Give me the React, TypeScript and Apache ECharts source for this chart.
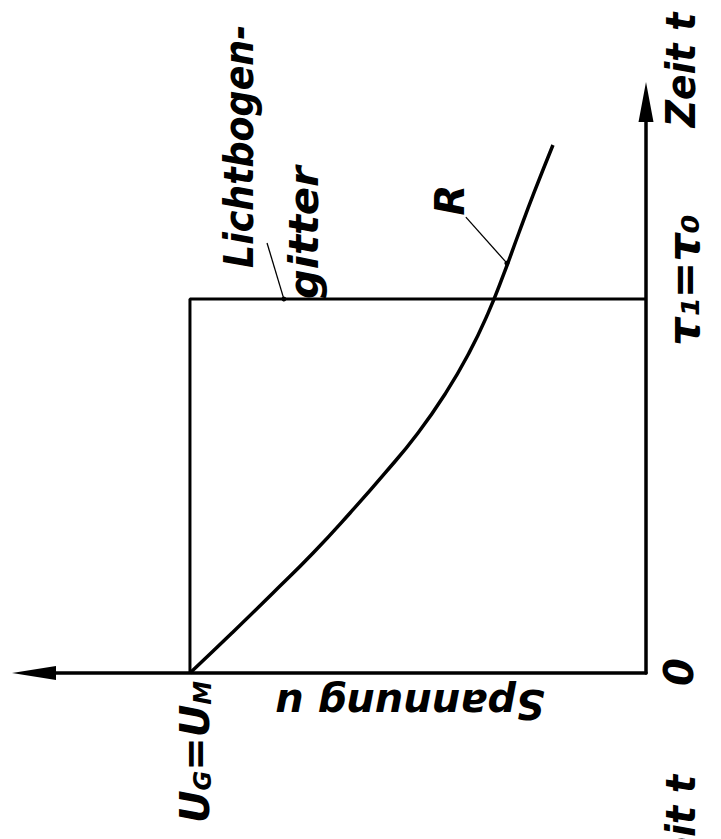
import React, { useEffect, useRef } from "react";
import * as echarts from "echarts";

// Curve R: voltage u (relative to U_M) over time t (relative to tau_1)
const curveT = [0, 0.107, 0.214, 0.321, 0.428, 0.535, 0.642, 0.749, 0.856, 0.963, 1.07, 1.176, 1.283, 1.412];
const curveU = [1.0, 0.908, 0.818, 0.73, 0.649, 0.572, 0.5, 0.439, 0.388, 0.346, 0.311, 0.279, 0.246, 0.204];
// Rectangle (Lichtbogengitter): u = U_M until tau_1
const frameU = [1, 1, 0];
const frameT = [0, 1, 1];
// Leader lines [u, t]
const leaderR = [[0.395, 1.219], [0.305, 1.096]];
const leaderGitter = [[0.831, 1.15], [0.794, 1.0]];
const U_MAX = 1.342;
const T_MAX = 1.527;

export default function App() {
  const ref = useRef<HTMLDivElement>(null);
  useEffect(() => {
    const chart = echarts.init(ref.current!, null, { renderer: "svg" });
    const base = { fontFamily: "DejaVu Sans", fontStyle: "italic", fontWeight: "bold", fill: "#000" };
    const R90 = Math.PI / 2;
    const txt = (text: string, x: number, y: number, rot: number, align: string, size: number, sx = 1) => ({
      type: "text",
      x,
      y,
      rotation: rot,
      scaleX: sx,
      style: { ...base, text, fontSize: size, align, verticalAlign: "middle" },
    });
    chart.setOption({
      animation: false,
      backgroundColor: "#fff",
      grid: { left: 34, right: 75, top: 102, bottom: 166 },
      xAxis: {
        type: "value",
        min: 0,
        max: U_MAX,
        inverse: true,
        position: "bottom",
        axisLine: {
          show: true,
          onZero: false,
          symbol: ["triangle", "none"],
          symbolSize: [14, 44],
          lineStyle: { color: "#000", width: 3.5 },
        },
        axisTick: { show: false },
        axisLabel: { show: false },
        splitLine: { show: false },
      },
      yAxis: {
        type: "value",
        min: 0,
        max: T_MAX,
        position: "right",
        axisLine: {
          show: true,
          onZero: false,
          symbol: ["none", "triangle"],
          symbolSize: [15, 40],
          lineStyle: { color: "#000", width: 3.5 },
        },
        axisTick: { show: false },
        axisLabel: { show: false },
        splitLine: { show: false },
      },
      series: [
        {
          type: "line",
          data: frameU.map((u, i) => [u, frameT[i]]),
          symbol: "none",
          lineStyle: { color: "#000", width: 3 },
          silent: true,
        },
        {
          type: "line",
          data: curveU.map((u, i) => [u, curveT[i]]),
          smooth: 0.5,
          symbol: "none",
          lineStyle: { color: "#000", width: 3.5 },
          silent: true,
          markLine: {
            silent: true,
            symbol: ["none", "circle"],
            symbolSize: 5,
            label: { show: false },
            lineStyle: { color: "#000", width: 1.3, type: "solid" },
            data: [
              [{ coord: leaderR[0] }, { coord: leaderR[1] }],
              [{ coord: leaderGitter[0] }, { coord: leaderGitter[1] }],
            ],
          },
        },
      ],
      graphic: [
        txt("Zeit t", 681, 70, R90, "center", 40, 0.94),
        txt("Zeit t", 681, 775, R90, "right", 40, 0.94),
        txt("τ₁=τ₀", 683, 280, R90, "center", 44, 1.0),
        txt("R", 450, 200, R90, "center", 40),
        txt("Lichtbogen-", 239, 268, R90, "left", 40, 0.91),
        txt("gitter", 304, 299, R90, "left", 40, 1.04),
        txt("0", 679, 672, R90, "center", 40),
        txt("Spannung u", 410, 704, Math.PI, "center", 40, 1.0),
        {
          type: "text",
          x: 192,
          y: 752,
          rotation: R90,
          style: {
            ...base,
            text: "{a|U}{b|G}{a|=U}{b|M}",
            align: "center",
            verticalAlign: "middle",
            rich: {
              a: { ...base, fontSize: 40, verticalAlign: "bottom", lineHeight: 46 },
              b: { ...base, fontSize: 24, verticalAlign: "bottom", lineHeight: 40 },
            },
          },
        },
      ],
    });
    return () => chart.dispose();
  }, []);
  return <div ref={ref} style={{ position: "fixed", left: 0, top: 0, width: 721, height: 839 }} />;
}
